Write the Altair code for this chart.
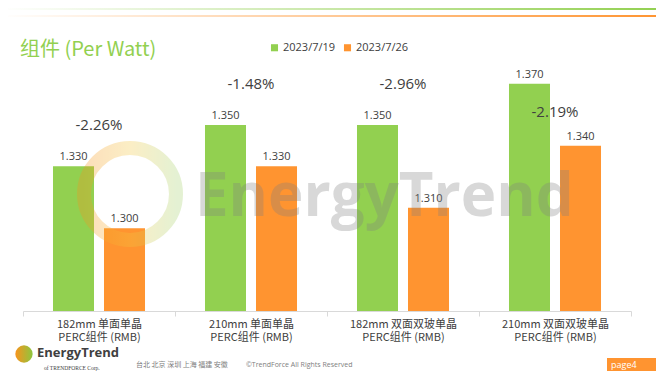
import altair as alt
import pandas as pd

# ---- data ----
cat_line1 = ["182mm 单面单晶", "210mm 单面单晶", "182mm 双面双玻单晶", "210mm 双面双玻单晶"]
cat_line2 = ["PERC组件 (RMB)", "PERC组件 (RMB)", "PERC组件 (RMB)", "PERC组件 (RMB)"]
series = ["2023/7/19", "2023/7/26"]
price_0719 = [1.330, 1.350, 1.350, 1.370]
price_0726 = [1.300, 1.330, 1.310, 1.340]
pct_text = ["-2.26%", "-1.48%", "-2.96%", "-2.19%"]
pct_at = [1.350, 1.370, 1.370, 1.3565]   # y-scale value where each % label sits

categories = [a + "\n" + b for a, b in zip(cat_line1, cat_line2)]
colors = ["#92D050", "#FF9430"]
FONT = "Open Sans, Noto Sans CJK SC, sans-serif"
CJK = "Noto Sans CJK SC, sans-serif"
YMIN, YMAX = 1.26, 1.38

rows = []
for i, c in enumerate(categories):
    rows.append({"cat": c, "series": series[0], "v": price_0719[i], "base": YMIN})
    rows.append({"cat": c, "series": series[1], "v": price_0726[i], "base": YMIN})
bars_df = pd.DataFrame(rows)
pct_df = pd.DataFrame({"cat": categories, "pct": pct_text, "at": pct_at})

yscale = alt.Scale(domain=[YMIN, YMAX], zero=False, nice=False)
x_enc = alt.X("cat:N", sort=categories, title=None,
              scale=alt.Scale(paddingInner=0, paddingOuter=0),
              axis=alt.Axis(labelExpr="split(datum.label, '\\n')", labelAngle=0,
                            labelFontSize=11, labelColor="#404040", labelFont=CJK,
                            labelLineHeight=13, labelPadding=2,
                            domainColor="#D9D9D9", tickColor="#D9D9D9", tickSize=5,
                            tickBand="extent", grid=False))
xo_enc = alt.XOffset("series:N", sort=series,
                     scale=alt.Scale(paddingInner=0.196, paddingOuter=0.588))
y_enc = alt.Y("v:Q", scale=yscale, axis=None)

base = alt.Chart(bars_df)
bars = base.mark_bar(clip=True).encode(
    x=x_enc, xOffset=xo_enc, y=y_enc, y2="base:Q",
    color=alt.Color("series:N", sort=series, scale=alt.Scale(domain=series, range=colors),
                    legend=alt.Legend(orient="none", legendX=246, legendY=-21,
                                      direction="horizontal", title=None,
                                      symbolType="square", symbolSize=50,
                                      labelFontSize=11, labelColor="#404040", labelFont=FONT,
                                      columnPadding=6, labelOffset=3, symbolStrokeWidth=0)),
)
vals = base.mark_text(baseline="bottom", dy=-4, fontSize=11, color="#404040", font=FONT).encode(
    x=alt.X("cat:N", sort=categories), xOffset=xo_enc, y=y_enc,
    text=alt.Text("v:Q", format=".3f"),
)
pcts = alt.Chart(pct_df).mark_text(baseline="middle", fontSize=15, color="#404040", font=FONT).encode(
    x=alt.X("cat:N", sort=categories),
    y=alt.Y("at:Q", scale=yscale),
    text="pct:N",
)

one = pd.DataFrame({"t": ["组件 (Per Watt)"]})

# decorations (page furniture)
top_green = alt.Chart(one).mark_rect(
    color=alt.Gradient(gradient="linear", x1=0, x2=1, y1=0, y2=0,
                       stops=[alt.GradientStop(color="#FFFFFF", offset=0),
                              alt.GradientStop(color="#92D050", offset=1)])
).encode(x=alt.value(-23), x2=alt.value(641), y=alt.value(-55), y2=alt.value(-53))
top_orange = alt.Chart(one).mark_rect(
    color=alt.Gradient(gradient="linear", x1=0, x2=1, y1=0, y2=0,
                       stops=[alt.GradientStop(color="#FFFFFF", offset=0),
                              alt.GradientStop(color="#FF9430", offset=1)])
).encode(x=alt.value(-23), x2=alt.value(641), y=alt.value(-48), y2=alt.value(-46))

title = alt.Chart(one).mark_text(align="left", baseline="alphabetic", fontSize=20,
                                 color="#92D050", font=CJK).encode(
    x=alt.value(-3), y=alt.value(-7), text="t:N")

ring = alt.Chart(one).mark_point(
    shape="circle", size=8464, strokeWidth=14, opacity=0.3, filled=False,
    stroke=alt.Gradient(gradient="linear", x1=0, x2=1, y1=0, y2=0,
                        stops=[alt.GradientStop(color="#F7941D", offset=0),
                               alt.GradientStop(color="#F5C842", offset=0.5),
                               alt.GradientStop(color="#A9D46F", offset=1)])
).encode(x=alt.value(107), y=alt.value(131))

wm_df = pd.DataFrame({"t": ["EnergyTrend"]})
watermark = alt.Chart(wm_df).mark_text(align="left", baseline="alphabetic", fontSize=60,
                                       fontWeight="bold", color="#808080", opacity=0.3,
                                       font="Open Sans").encode(
    x=alt.value(172), y=alt.value(153), text="t:N")

logo_icon = alt.Chart(one).mark_point(
    shape="circle", size=300, filled=True, opacity=1,
    fill=alt.Gradient(gradient="linear", x1=0, x2=1, y1=0, y2=0,
                      stops=[alt.GradientStop(color="#F7941D", offset=0),
                             alt.GradientStop(color="#8DC63F", offset=1)])
).encode(x=alt.value(1), y=alt.value(291))

logo_df = pd.DataFrame({"t": ["EnergyTrend"]})
logo_text = alt.Chart(logo_df).mark_text(align="left", baseline="middle", fontSize=13,
                                         fontWeight="bold", color="#404040", font="Open Sans").encode(
    x=alt.value(14), y=alt.value(290), text="t:N")
of_df = pd.DataFrame({"t": ["of TRENDFORCE Corp."]})
of_text = alt.Chart(of_df).mark_text(align="left", baseline="middle", fontSize=5.5,
                                     color="#404040", font="Liberation Serif").encode(
    x=alt.value(21), y=alt.value(305), text="t:N")
cities_df = pd.DataFrame({"t": ["台北 北京 深圳 上海 福建 安徽"]})
cities = alt.Chart(cities_df).mark_text(align="left", baseline="middle", fontSize=7,
                                        color="#808080", font=CJK).encode(
    x=alt.value(113), y=alt.value(302), text="t:N")
copy_df = pd.DataFrame({"t": ["©TrendForce All Rights Reserved"]})
copyr = alt.Chart(copy_df).mark_text(align="left", baseline="middle", fontSize=7,
                                     color="#808080", font=FONT).encode(
    x=alt.value(223), y=alt.value(302), text="t:N")
page_box = alt.Chart(one).mark_rect(color="#FF9430").encode(
    x=alt.value(584), x2=alt.value(635), y=alt.value(295), y2=alt.value(308))
page_df = pd.DataFrame({"t": ["page4"]})
page_text = alt.Chart(page_df).mark_text(align="left", baseline="middle", fontSize=9,
                                         color="#FFFFFF", font=FONT).encode(
    x=alt.value(588), y=alt.value(301.5), text="t:N")

chart = alt.layer(
    top_green, top_orange, title, bars, vals, pcts, ring, watermark,
    logo_icon, logo_text, of_text, cities, copyr, page_box, page_text
).properties(
    width=608, height=248,
    padding={"left": 15, "top": 55, "right": 25, "bottom": 61},
    autosize=alt.AutoSizeParams(type="none"),
).configure_view(stroke=None).resolve_scale(y="shared")

chart.save("out.html", embed_options={"renderer": "svg", "actions": False})
